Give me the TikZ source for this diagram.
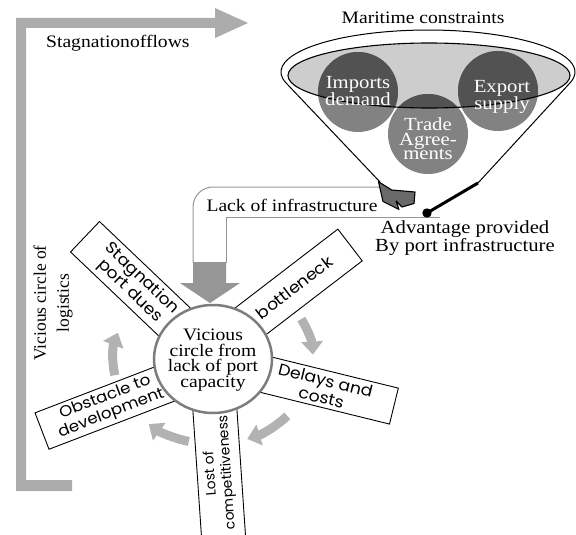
\documentclass[tikz,border=0pt]{standalone}
\usepackage{fontspec}
\setmainfont[FakeStretch=1.12]{Liberation Serif}
\newfontfamily\vserif{Liberation Serif}
\newfontfamily\sansS[FakeStretch=1.08]{Poppins}
\newfontfamily\sansV{Poppins}
\usetikzlibrary{shapes.geometric,arrows.meta,calc}
\definecolor{larrow}{RGB}{172,172,172}
\definecolor{darrow}{RGB}{150,150,150}
\definecolor{cycg}{RGB}{178,178,178}
\definecolor{pipeg}{RGB}{150,150,150}
\definecolor{ringg}{RGB}{125,125,125}
\definecolor{ellg}{RGB}{205,205,205}
\definecolor{circmid}{RGB}{130,130,130}
\definecolor{circdark}{RGB}{82,82,82}
\definecolor{flagg}{RGB}{105,105,105}
\tikzset{
  lbl/.style={inner sep=1pt, font=\fontsize{17.5}{18}\selectfont},
  spokebox/.style={draw=black, fill=white, line width=0.9pt, inner sep=0pt, align=center,
    font=\sansS\fontsize{16}{17.5}\selectfont},
  cyc/.style={line width=9pt, draw=cycg, -{Triangle[width=21pt,length=13pt]}},
  bubble/.style={circle, minimum size=80pt, inner sep=0pt, fill=circmid},
  bubtxt/.style={text=white, align=center, inner sep=0pt, font=\fontsize{18.5}{14.5}\selectfont},
  pipe/.style={draw=pipeg, line width=1pt},
}
\begin{document}
\begin{tikzpicture}[x=1pt,y=-1pt]
\useasboundingbox (0,0) rectangle (576,535);

% big L-shaped arrow
\fill[larrow] (16,491) -- (16,18) -- (215,18) -- (215,8) -- (248,23) -- (215,38)
  -- (215,28) -- (26,28) -- (26,480) -- (72,480) -- (72,491) -- cycle;
\node[lbl, anchor=west] (flows) at (45,43) {Stagnationofflows};
\node[lbl, rotate=90, align=center, font=\vserif\fontsize{17.5}{23}\selectfont] (logi) at (53,303) {Vicious circle of\\logistics};

% funnel
\coordinate (fl) at (380,182);
\coordinate (fr) at (478,183);
\draw[line width=1pt, fill=white] (fl) -- (286,82.9) arc[start angle=165, end angle=375, x radius=147, y radius=42] -- (fr);
\fill[ellg] (429,75.5) ellipse[x radius=141, y radius=32.5];
\node[bubble] (imp) at (358,92) {};
\node[bubble] (trade) at (428,134) {};
\node[bubble] (exp) at (498,91) {};
\begin{scope}
  \clip (429,75.5) ellipse[x radius=141, y radius=32.5];
  \fill[circdark] (imp.center) circle[radius=40];
  \fill[circdark] (trade.center) circle[radius=40];
  \fill[circdark] (exp.center) circle[radius=40];
\end{scope}
\draw[line width=1.1pt] (429,75.5) ellipse[x radius=141, y radius=32.5];
\node[bubtxt] (imptxt) at (358,91) {Imports\\demand};
\node[bubtxt] (exptxt) at (502,97) {Export\\supply};
\node[bubtxt] (tradetxt) at (428,139) {Trade\\Agree-\\ments};
\node[lbl] (mc) at (423,18) {Maritime constraints};

% pipe
\draw[pipe] (193,263) -- (193,207) arc[start angle=180, end angle=270, radius=20] -- (381,187);
\draw[pipe] (226,263) -- (226,217) -- (440,217);
\node[lbl] (lack) at (292,205) {Lack of infrastructure};

% flag and lever
\filldraw[fill=flagg, draw=black, line width=1.1pt, line join=round]
  (378.5,181.7) -- (391.7,190) -- (415,192) -- (414,203.5) -- (402,207) -- (396,201)
  -- (399,209.5) -- (383,201.5) -- cycle;
\coordinate (knob) at (427,213);
\draw[line width=3pt] (fr) -- (knob);
\fill (knob) circle[radius=4.7];
\node[lbl, align=center, font=\fontsize{18.5}{18.5}\selectfont] (adv) at (465,238) {Advantage provided\\By port infrastructure};

% down arrow
\fill[darrow] (193,262) -- (226,262) -- (226,283) -- (240,283) -- (210,303) -- (180,283) -- (193,283) -- cycle;

% spokes
\node[spokebox, rotate=37.5, minimum width=140pt, minimum height=40pt] (bn) at (294.5,287.6) {bottleneck};
\node[spokebox, rotate=-13.8, minimum width=145pt, minimum height=37pt] (dc) at (323.5,388.8) {Delays and\\costs};
\node[spokebox, rotate=93.9, minimum width=150pt, minimum height=44pt, font=\sansV\fontsize{13.8}{16.5}\selectfont] (lc) at (219.2,473) {Lost of\\competitiveness};
\node[spokebox, rotate=21, minimum width=142pt, minimum height=39pt, font=\sansS\fontsize{15.5}{17}\selectfont] (od) at (108.3,405.6) {Obstacle to\\development};
\node[spokebox, rotate=-43.6, minimum width=140pt, minimum height=42pt] (sp) at (135.7,285) {Stagnation\\port dues};

% curved arrows
\coordinate (cc) at (213,359);
\draw[cyc] (cc) ++(-28:100 and 85) arc[start angle=-28, end angle=-3, x radius=100, y radius=85];
\draw[cyc] (cc) ++(42:100 and 85) arc[start angle=42, end angle=70, x radius=100, y radius=85];
\draw[cyc] (cc) ++(104:100 and 85) arc[start angle=104, end angle=130, x radius=100, y radius=85];
\draw[cyc] (cc) ++(169:100 and 85) arc[start angle=169, end angle=198, x radius=100, y radius=85];

% central circle
\node[ellipse, draw=ringg, line width=2.5pt, fill=white, minimum width=118pt, minimum height=108pt, inner sep=0pt] (vc) at (cc) {};
\node[align=center, inner sep=0pt, font=\fontsize{17.5}{15.5}\selectfont] (vctxt) at (213,360) {Vicious\\circle from\\lack of port\\capacity};
\end{tikzpicture}
\end{document}
